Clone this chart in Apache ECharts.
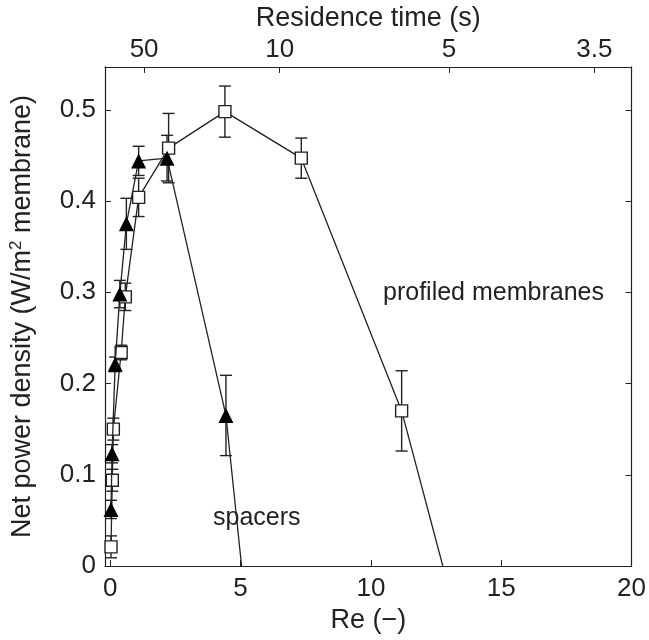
<!DOCTYPE html>
<html>
<head>
<meta charset="utf-8">
<script src="https://cdn.jsdelivr.net/npm/echarts@6/dist/echarts.min.js"></script>
<style>
html,body{margin:0;padding:0;background:#fff;}
#chart{width:649px;height:640px;}
</style>
</head>
<body>
<div id="chart"></div>
<script>
// Profiled membranes (open squares)
const profiledRe    = [0.03, 0.08, 0.12, 0.42, 0.58, 1.09, 2.24, 4.40, 7.33, 11.18, 12.76];
const profiledPower = [0.021, 0.094, 0.150, 0.234, 0.295, 0.404, 0.458, 0.498, 0.447, 0.170, 0.0];
const profiledErr   = [0.012, 0.012, 0.012, 0.008, 0.015, 0.021, 0.038, 0.028, 0.022, 0.044, null];

// Spacers (filled triangles)
const spacersRe    = [0.03, 0.07, 0.19, 0.37, 0.62, 1.09, 2.18, 4.44, 5.04];
const spacersPower = [0.062, 0.123, 0.221, 0.298, 0.375, 0.444, 0.447, 0.165, 0.0];
const spacersErr   = [0.010, 0.010, 0.008, 0.015, 0.028, 0.016, 0.025, 0.044, null];

// Axis ticks
const reTicks = [0, 5, 10, 15, 20];
const powerTicks = [0, 0.1, 0.2, 0.3, 0.4, 0.5];
const residenceTicks = [50, 10, 5, 3.5];
const RE_TIMES_RESIDENCE = 65; // Re * residence time (s)

const FONT = "'Liberation Sans', Arial, sans-serif";
const INK = '#222';
const TICK_FS = 26;
const NAME_FS = 27;

function lineData(xs, ys, errs) {
  return xs.map((x, i) => errs[i] === null ? { value: [x, ys[i]], symbol: 'none' } : { value: [x, ys[i]] });
}
function errData(xs, ys, errs) {
  const out = [];
  xs.forEach((x, i) => { if (errs[i] !== null) out.push([x, ys[i] - errs[i], ys[i] + errs[i]]); });
  return out;
}
function renderErr(params, api) {
  const x = api.value(0);
  const lo = api.coord([x, api.value(1)]);
  const hi = api.coord([x, api.value(2)]);
  const w = 6;
  const style = { stroke: INK, lineWidth: 1.4 };
  return {
    type: 'group',
    children: [
      { type: 'line', shape: { x1: lo[0], y1: lo[1], x2: hi[0], y2: hi[1] }, style },
      { type: 'line', shape: { x1: lo[0] - w, y1: lo[1], x2: lo[0] + w, y2: lo[1] }, style },
      { type: 'line', shape: { x1: hi[0] - w, y1: hi[1], x2: hi[0] + w, y2: hi[1] }, style }
    ]
  };
}

const chart = echarts.init(document.getElementById('chart'), null, { renderer: 'canvas' });
const axisLabelStyle = { color: INK, fontSize: TICK_FS, fontFamily: FONT };
const nameStyle = { color: INK, fontSize: NAME_FS, fontFamily: FONT };
const topTickRe = residenceTicks.map(t => RE_TIMES_RESIDENCE / t);

chart.setOption({
  animation: false,
  backgroundColor: '#fff',
  textStyle: { fontFamily: FONT },
  grid: { left: 104, right: 16, top: 65, bottom: 74, show: false },
  xAxis: [
    {
      type: 'value', position: 'bottom', min: -0.2, max: 20,
      axisLine: { show: true, onZero: false, lineStyle: { color: INK, width: 1.2 } },
      axisTick: { show: true, inside: true, length: 6, customValues: reTicks, lineStyle: { color: INK } },
      axisLabel: { ...axisLabelStyle, margin: 10, customValues: reTicks },
      splitLine: { show: false },
      name: 'Re (\u2212)', nameLocation: 'middle', nameGap: 40,
      nameTextStyle: nameStyle
    },
    {
      type: 'value', position: 'top', min: -0.2, max: 20,
      axisLine: { show: true, onZero: false, lineStyle: { color: INK, width: 1.2 } },
      axisTick: { show: true, inside: true, length: 6, customValues: topTickRe, lineStyle: { color: INK } },
      axisLabel: {
        ...axisLabelStyle, margin: 4,
        customValues: topTickRe,
        formatter: v => String(Math.round(RE_TIMES_RESIDENCE / v * 10) / 10)
      },
      splitLine: { show: false },
      name: 'Residence time (s)', nameLocation: 'middle', nameGap: 34,
      nameTextStyle: nameStyle
    }
  ],
  yAxis: [
    {
      type: 'value', position: 'left', min: 0, max: 0.547,
      axisLine: { show: true, onZero: false, lineStyle: { color: INK, width: 1.2 } },
      axisTick: { show: true, inside: true, length: 6, customValues: powerTicks, lineStyle: { color: INK } },
      axisLabel: { ...axisLabelStyle, margin: 9, customValues: powerTicks },
      splitLine: { show: false },
      name: '{n|Net power density (W/m}{s|2}{n| membrane)}', nameLocation: 'middle', nameGap: 68,
      nameTextStyle: {
        rich: {
          n: { color: INK, fontSize: NAME_FS, fontFamily: FONT },
          s: { color: INK, fontSize: 17, fontFamily: FONT, verticalAlign: 'top', padding: [0, 0, 12, 0] }
        }
      }
    },
    {
      type: 'value', position: 'right', min: 0, max: 0.547,
      axisLine: { show: true, onZero: false, lineStyle: { color: INK, width: 1.2 } },
      axisTick: { show: true, inside: true, length: 6, customValues: powerTicks, lineStyle: { color: INK } },
      axisLabel: { show: false },
      splitLine: { show: false }
    }
  ],
  series: [
    {
      type: 'custom', name: 'profiled err', xAxisIndex: 0, yAxisIndex: 0, z: 1,
      renderItem: renderErr, data: errData(profiledRe, profiledPower, profiledErr)
    },
    {
      type: 'custom', name: 'spacers err', xAxisIndex: 0, yAxisIndex: 0, z: 1,
      renderItem: renderErr, data: errData(spacersRe, spacersPower, spacersErr)
    },
    {
      type: 'line', name: 'profiled membranes', xAxisIndex: 0, yAxisIndex: 0, z: 2,
      data: lineData(profiledRe, profiledPower, profiledErr),
      symbol: 'rect', symbolSize: 12, showAllSymbol: true,
      lineStyle: { color: INK, width: 1.3 },
      itemStyle: { color: '#fff', borderColor: INK, borderWidth: 1.4 }
    },
    {
      type: 'line', name: 'spacers', xAxisIndex: 0, yAxisIndex: 0, z: 3,
      data: lineData(spacersRe, spacersPower, spacersErr),
      symbol: 'triangle', symbolSize: 15, showAllSymbol: true,
      lineStyle: { color: INK, width: 1.3 },
      itemStyle: { color: '#000', borderColor: '#000', borderWidth: 0 }
    }
  ],
  graphic: [
    { type: 'text', left: 383, top: 281, style: { text: 'profiled membranes', fill: INK, fontSize: 25, fontFamily: FONT } },
    { type: 'text', left: 213, top: 506, style: { text: 'spacers', fill: INK, fontSize: 25, fontFamily: FONT } }
  ]
});
</script>
</body>
</html>
